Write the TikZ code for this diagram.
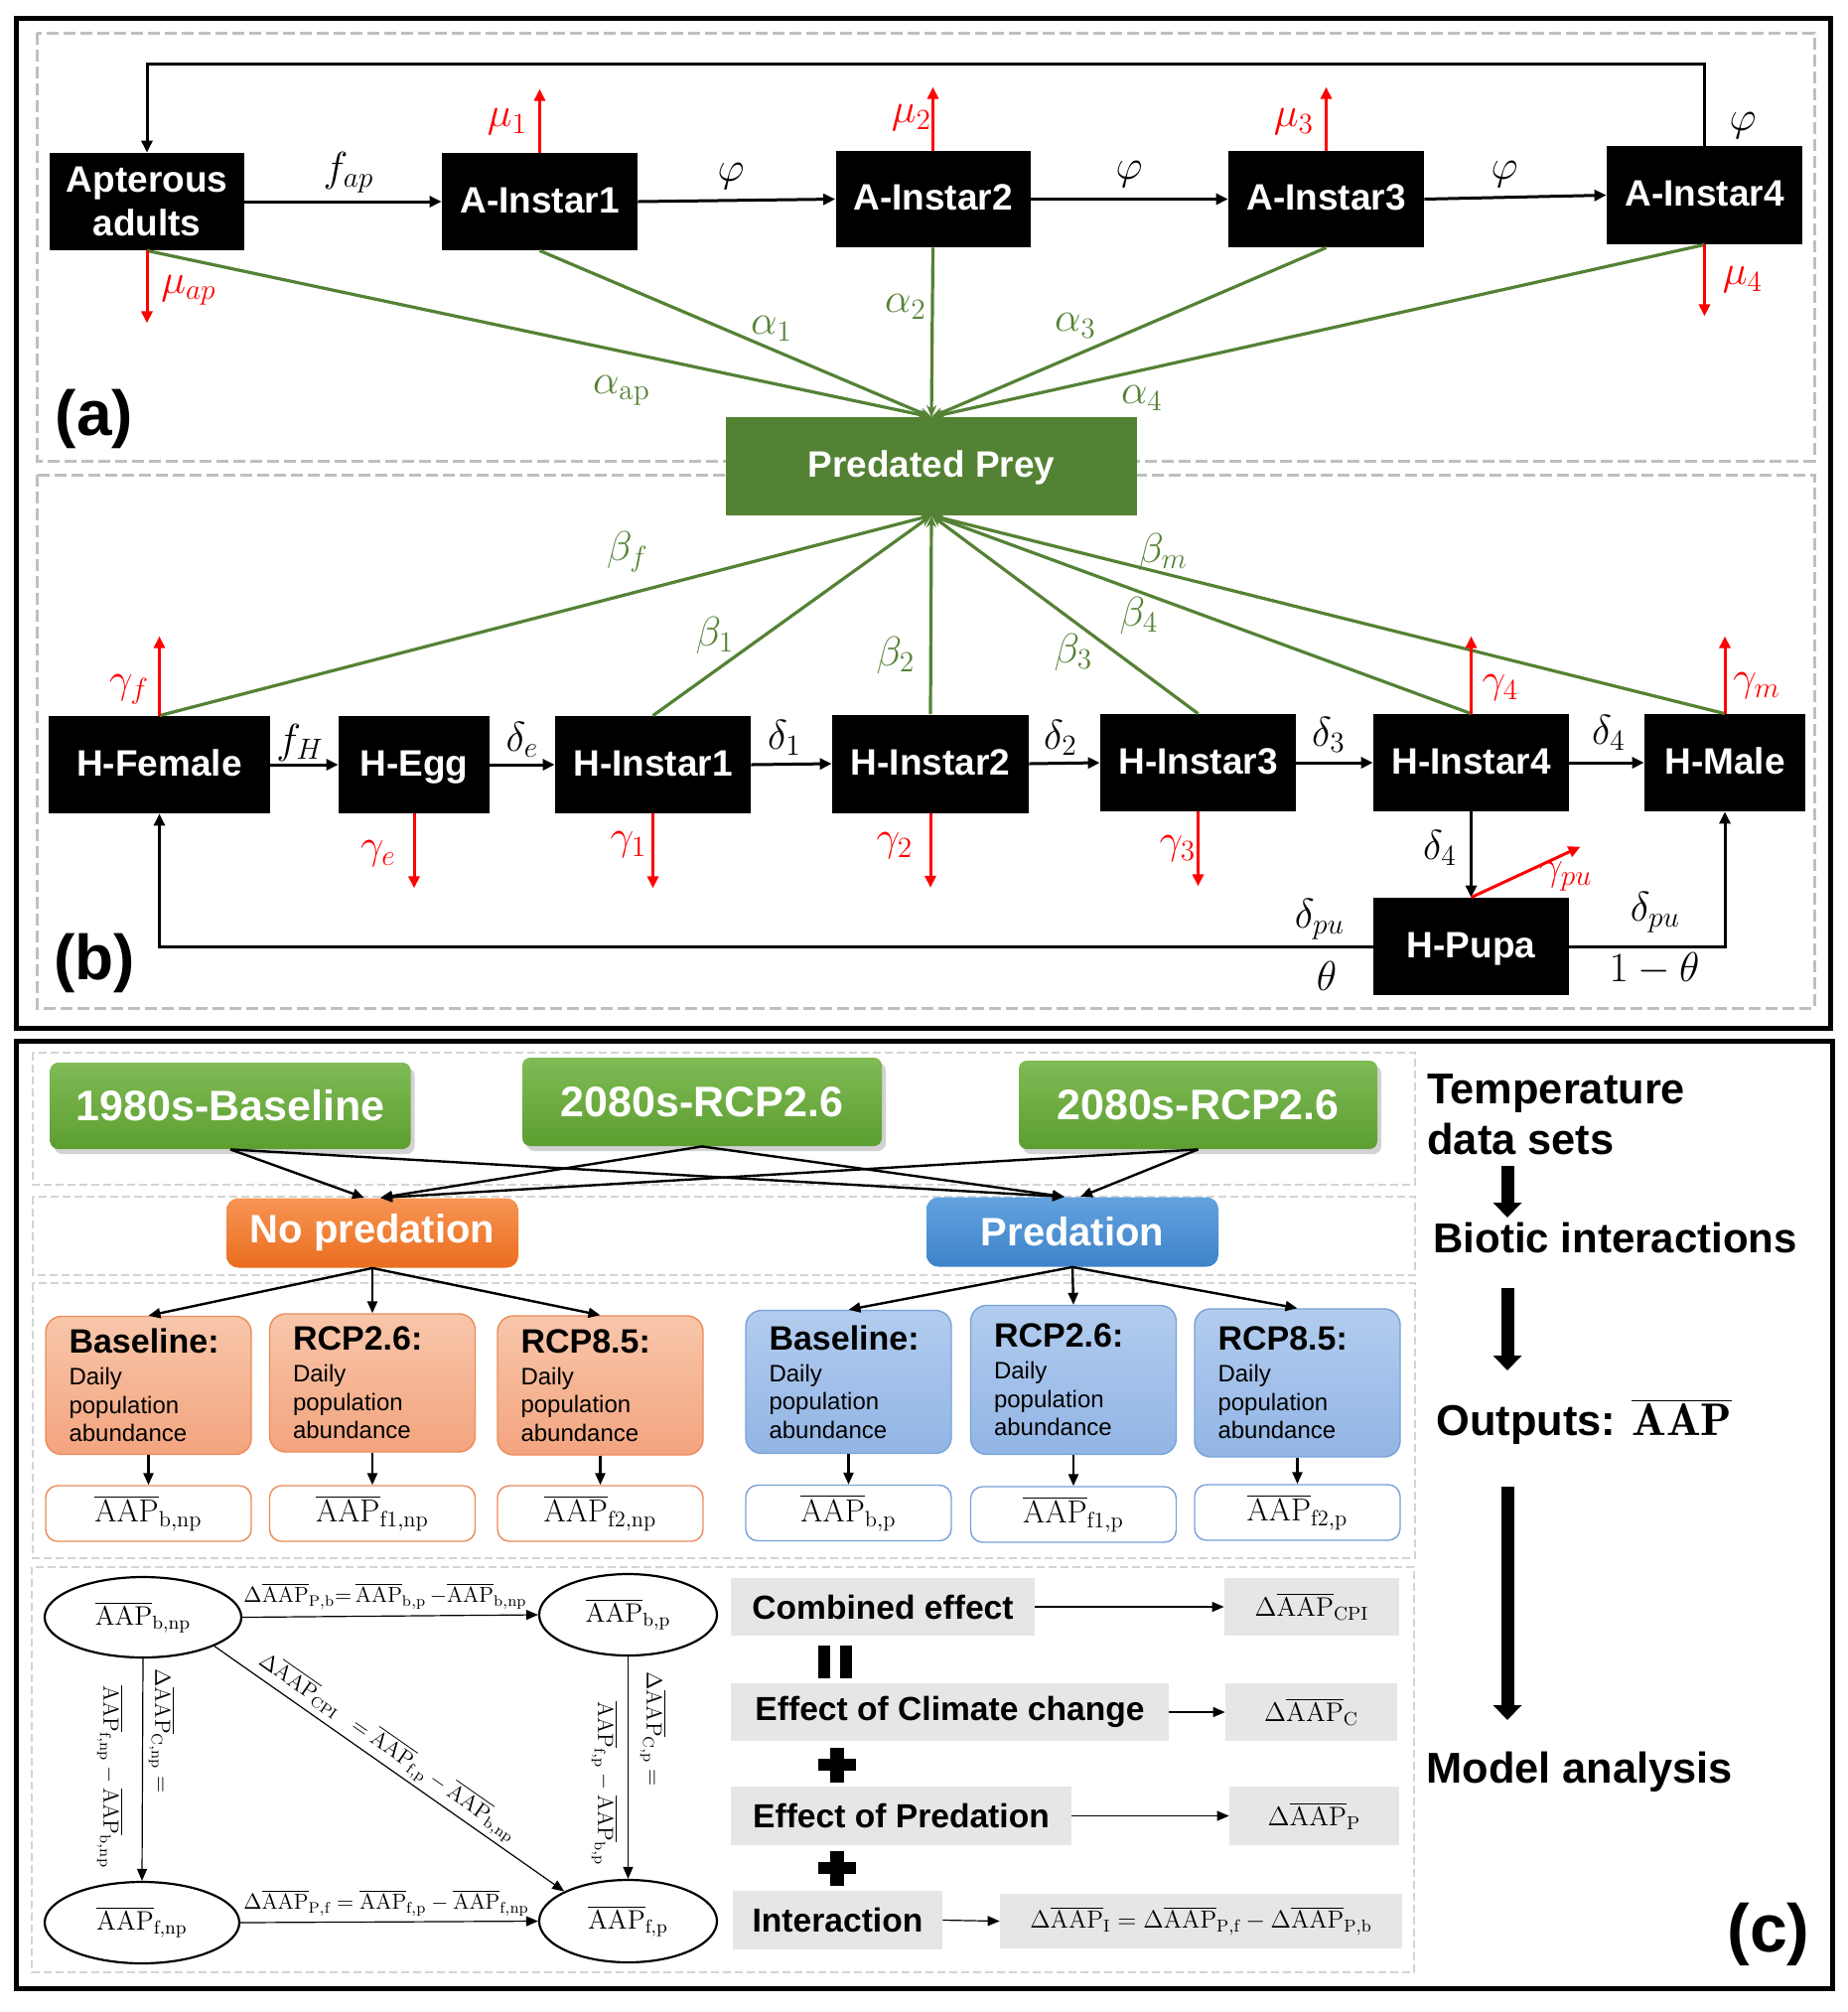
\RequirePackage{fix-cm}
\documentclass[tikz,border=0pt]{standalone}
\usepackage{fontspec}
\newfontfamily\arial{Liberation Sans}
\usetikzlibrary{arrows.meta,shapes.geometric,shadows,calc}
\definecolor{pgreen}{RGB}{84,130,53}
\definecolor{dgray}{RGB}{191,191,191}
\definecolor{lgray}{RGB}{212,212,212}
\definecolor{boxgray}{RGB}{231,230,230}
\definecolor{tgtop}{RGB}{128,187,86}
\definecolor{tgbot}{RGB}{92,158,48}
\definecolor{ortop}{RGB}{247,148,84}
\definecolor{orbot}{RGB}{234,110,30}
\definecolor{bltop}{RGB}{98,162,222}
\definecolor{blbot}{RGB}{62,131,202}
\definecolor{lotop}{RGB}{248,198,170}
\definecolor{lobot}{RGB}{243,164,126}
\definecolor{lodraw}{RGB}{236,140,90}
\definecolor{lbtop}{RGB}{178,204,238}
\definecolor{lbbot}{RGB}{146,181,229}
\definecolor{lbdraw}{RGB}{120,162,216}
\newcommand{\ovA}{\overline{\mathrm{AAP}}}
\newcommand{\stxt}[1]{\parbox{80pt}{\raggedright\fontsize{17}{17}\selectfont\bfseries #1\par\vspace{1.75pt}\fontsize{12}{14.25}\selectfont\mdseries Daily\par population\par abundance}}
\begin{document}
\begin{tikzpicture}[x=0.5pt,y=-0.5pt,
  blk/.style={fill=black, text=white, font=\arial\bfseries\fontsize{18.5}{22}\selectfont, inner sep=0pt, align=center},
  blk1/.style={blk, text height=13.3pt, text depth=2pt},
  lab/.style={inner sep=0pt, font=\fontsize{21}{24}\selectfont},
  barr/.style={draw=black, line width=1.5pt, -{Triangle[length=6pt,width=5.5pt]}},
  rarr/.style={draw=red, line width=1.5pt, -{Triangle[length=6pt,width=5.5pt]}},
  garr/.style={draw=pgreen, line width=1.6pt, -{Stealth[length=6pt,width=5pt]}},
  dbox/.style={draw=dgray, line width=1.5pt, dash pattern=on 6pt off 2.5pt},
  lbox/.style={draw=lgray, line width=1pt, dash pattern=on 4pt off 2pt},
  tnode/.style={rounded corners=4pt, top color=tgtop, bottom color=tgbot, text=white, font=\arial\bfseries\fontsize{21.5}{24}\selectfont, inner sep=0pt, drop shadow={shadow xshift=2pt, shadow yshift=-2.5pt, opacity=0.35}},
  prnode/.style={rounded corners=6pt, text=white, font=\arial\bfseries\fontsize{20}{24}\selectfont, inner sep=0pt, minimum width=147pt, minimum height=35pt},
  obox/.style={rounded corners=8pt, top color=lotop, bottom color=lobot, draw=lodraw, line width=0.7pt, inner sep=0pt, minimum width=103.5pt, font=\arial},
  bbox/.style={rounded corners=8pt, top color=lbtop, bottom color=lbbot, draw=lbdraw, line width=0.7pt, inner sep=0pt, minimum width=103.5pt, font=\arial},
  oabox/.style={rounded corners=6pt, fill=white, draw=lodraw, line width=0.7pt, inner sep=0pt, minimum width=103.5pt, minimum height=28pt, font=\fontsize{16}{18}\selectfont},
  babox/.style={rounded corners=6pt, fill=white, draw=lbdraw, line width=0.7pt, inner sep=0pt, minimum width=103.5pt, minimum height=28pt, font=\fontsize{16}{18}\selectfont},
  carr/.style={draw=black, line width=1.2pt, -{Triangle[length=6pt,width=5pt]}},
  tarr/.style={draw=black, line width=0.6pt, -{Triangle[length=6pt,width=5pt]}},
  bigarr/.style={draw=black, line width=6.5pt, -{Triangle[length=7.5pt,width=14pt]}},
  ell/.style={ellipse, draw=black, line width=1.1pt, inner sep=0pt, font=\fontsize{13.5}{15}\selectfont},
  elab/.style={inner sep=0pt, font=\fontsize{11}{13}\selectfont},
  gbox/.style={fill=boxgray, inner sep=0pt, font=\arial\bfseries\fontsize{16.8}{19}\selectfont},
  vbox/.style={fill=boxgray, inner sep=0pt, font=\fontsize{13.5}{16}\selectfont},
  rtxt/.style={inner sep=0pt, font=\arial\bfseries\fontsize{21.7}{24}\selectfont},
  plab/.style={inner sep=0pt, font=\arial\bfseries\fontsize{32}{36}\selectfont}
]
\useasboundingbox (0,0) rectangle (1860,2026);
\fill[white] (0,0) rectangle (1860,2026);

% ---------------- (a) and (b) frames
\draw[line width=2.5pt] (16,18) rectangle (1843,1035);
\draw[dbox] (37,33) rectangle (1827,464);
\draw[dbox] (37,478) rectangle (1827,1015);

% ---------------- (a) nodes
\node[blk, minimum width=98pt, minimum height=49pt] (ap) at (148,203) {Apterous\\adults};
\node[blk1, minimum width=98.5pt, minimum height=49pt] (a1) at (543.5,203) {A-Instar1};
\node[blk1, minimum width=98pt, minimum height=48.5pt] (a2) at (939.5,200.5) {A-Instar2};
\node[blk1, minimum width=98.5pt, minimum height=48.5pt] (a3) at (1335.5,200.5) {A-Instar3};
\node[blk1, minimum width=98.5pt, minimum height=49.5pt] (a4) at (1716.5,196.5) {A-Instar4};

% ---------------- (b) nodes
\node[blk1, minimum width=111.5pt, minimum height=49pt] (hf) at (160.5,770) {H-Female};
\node[blk1, minimum width=76pt, minimum height=49pt] (he) at (417,770) {H-Egg};
\node[blk1, minimum width=98.5pt, minimum height=49pt] (h1) at (657.5,770) {H-Instar1};
\node[blk1, minimum width=99pt, minimum height=49.5pt] (h2) at (937,769) {H-Instar2};
\node[blk1, minimum width=98.5pt, minimum height=49pt] (h3) at (1206.5,768) {H-Instar3};
\node[blk1, minimum width=98.5pt, minimum height=49pt] (h4) at (1481.5,768) {H-Instar4};
\node[blk1, minimum width=81pt, minimum height=49pt] (hm) at (1737,768) {H-Male};
\node[blk1, minimum width=98.5pt, minimum height=49pt] (hp) at (1481.5,953) {H-Pupa};

% green predation lines
\foreach \n in {ap,a1,a2,a3,a4} \draw[garr] (\n.south) -- (938,420);
\foreach \n in {hf,h1,h2,h3,h4,hm} \draw[garr] (\n.north) -- (938,519);

\node[blk1, fill=pgreen, minimum width=207pt, minimum height=49.5pt] (pp) at (938,469.5) {Predated Prey};

% black arrows (a)
\draw[barr] (ap.east) -- (a1.west);
\draw[barr] (a1.east) -- (a2.west);
\draw[barr] (a2.east) -- (a3.west);
\draw[barr] (a3.east) -- (a4.west);
\draw[barr] (a4.north) -- ++(0,-82) -| (ap.north);

% red arrows (a)
\draw[rarr] (a1.north) -- ++(0,-64);
\draw[rarr] (a2.north) -- ++(0,-64);
\draw[rarr] (a3.north) -- ++(0,-64);
\draw[rarr] (ap.south) -- ++(0,73);
\draw[rarr] (a4.south) -- ++(0,72);

% black arrows (b)
\draw[barr] (hf.east) -- (he.west);
\draw[barr] (he.east) -- (h1.west);
\draw[barr] (h1.east) -- (h2.west);
\draw[barr] (h2.east) -- (h3.west);
\draw[barr] (h3.east) -- (h4.west);
\draw[barr] (h4.east) -- (hm.west);
\draw[barr] (h4.south) -- (hp.north);
\draw[barr] (hp.west) -| (hf.south);
\draw[barr] (hp.east) -| (hm.south);

% red arrows (b)
\draw[rarr] (hf.north) -- ++(0,-80);
\draw[rarr] (he.south) -- ++(0,75);
\draw[rarr] (h1.south) -- ++(0,75);
\draw[rarr] (h2.south) -- ++(0,75);
\draw[rarr] (h3.south) -- ++(0,75);
\draw[rarr] (h4.north) -- ++(0,-78);
\draw[rarr] (hm.north) -- ++(0,-78);
\draw[rarr] (hp.north) -- ++(110,-51);

% labels (a)
\node[lab] (lfap) at (351,174) {$f_{ap}$};
\node[lab] (lphi1) at (736,178) {$\varphi$};
\node[lab] (lphi2) at (1137,176) {$\varphi$};
\node[lab] (lphi3) at (1515,176) {$\varphi$};
\node[lab] (lphi4) at (1755,127) {$\varphi$};
\node[lab,red] (lmu1) at (511,123) {$\mu_1$};
\node[lab,red] (lmu2) at (918,119) {$\mu_2$};
\node[lab,red] (lmu3) at (1303,123) {$\mu_3$};
\node[lab,red] (lmuap) at (190,292) {$\mu_{ap}$};
\node[lab,red] (lmu4) at (1755,282) {$\mu_4$};
\node[lab,pgreen] (lalap) at (626,393) {$\alpha_{\mathrm{ap}}$};
\node[lab,pgreen] (lal1) at (777,331) {$\alpha_1$};
\node[lab,pgreen] (lal2) at (912,309) {$\alpha_2$};
\node[lab,pgreen] (lal3) at (1083,328) {$\alpha_3$};
\node[lab,pgreen] (lal4) at (1150,401) {$\alpha_4$};

% labels (b)
\node[lab,pgreen] (lbf) at (632,556) {$\beta_f$};
\node[lab,pgreen] (lb1) at (720,640) {$\beta_1$};
\node[lab,pgreen] (lb2) at (902,660) {$\beta_2$};
\node[lab,pgreen] (lb3) at (1081,657) {$\beta_3$};
\node[lab,pgreen] (lb4) at (1147,620) {$\beta_4$};
\node[lab,pgreen] (lbm) at (1171,556) {$\beta_m$};
\node[lab,red] (lgf) at (130,694) {$\gamma_f$};
\node[lab,red] (lge) at (381,860) {$\gamma_e$};
\node[lab,red] (lg1) at (633,851) {$\gamma_1$};
\node[lab,red] (lg2) at (901,852) {$\gamma_2$};
\node[lab,red] (lg3) at (1186,855) {$\gamma_3$};
\node[lab,red] (lg4) at (1511,693) {$\gamma_4$};
\node[lab,red] (lgm) at (1769,691) {$\gamma_m$};
\node[lab,red] (lgpu) at (1577,882) {$\gamma_{pu}$};
\node[lab] (lfh) at (302,748) {$f_H$};
\node[lab] (lde) at (526,745) {$\delta_e$};
\node[lab] (ld1) at (790,743) {$\delta_1$};
\node[lab] (ld2) at (1068,743) {$\delta_2$};
\node[lab] (ld3) at (1338,740) {$\delta_3$};
\node[lab] (ld4) at (1620,738) {$\delta_4$};
\node[lab] (ld4b) at (1450,854) {$\delta_4$};
\node[lab] (ldpu1) at (1329,926) {$\delta_{pu}$};
\node[lab] (lth) at (1336,983) {$\theta$};
\node[lab] (ldpu2) at (1667,919) {$\delta_{pu}$};
\node[lab] (l1th) at (1666,976) {$1-\theta$};

\node[plab] (la) at (95,422) {(a)};
\node[plab] (lb) at (95,970) {(b)};

% ---------------- (c)
\draw[line width=2.5pt] (16,1048) rectangle (1845,2002);
\draw[lbox] (33,1060) rectangle (1425,1193);
\draw[lbox] (33,1205) rectangle (1425,1284);
\draw[lbox] (33,1292) rectangle (1425,1569);
\draw[lbox] (32,1578) rectangle (1424,1986);

\node[tnode, minimum width=181.5pt, minimum height=43.5pt] (t1) at (232,1113.5) {1980s-Baseline};
\node[tnode, minimum width=181pt, minimum height=44.5pt] (t2) at (707,1109.5) {2080s-RCP2.6};
\node[tnode, minimum width=180.5pt, minimum height=44.5pt] (t3) at (1206.5,1112.5) {2080s-RCP2.6};

\node[prnode, top color=ortop, bottom color=orbot] (np) at (375,1241.5) {No predation};
\node[prnode, top color=bltop, bottom color=blbot] (pr) at (1080,1240.5) {Predation};

\coordinate (npL) at ($(np.north)+(-8,0)$);
\coordinate (npR) at ($(np.north)+(8,0)$);
\coordinate (prL) at ($(pr.north)+(-8,0)$);
\coordinate (prR) at ($(pr.north)+(8,0)$);
\draw[carr] (t1.south) -- (npL);
\draw[carr] (t1.south) -- (prL);
\draw[carr] (t2.south) -- (npR);
\draw[carr] (t2.south) -- (prL);
\draw[carr] (t3.south) -- (npR);
\draw[carr] (t3.south) -- (prR);

\node[obox, minimum height=69.5pt] (npb) at (149.5,1395) {\stxt{Baseline:}};
\node[obox, minimum height=69.5pt] (np26) at (375,1392.5) {\stxt{RCP2.6:}};
\node[obox, minimum height=70pt] (np85) at (604.5,1395) {\stxt{RCP8.5:}};
\node[bbox, minimum height=72pt] (pb) at (854.5,1391.5) {\stxt{Baseline:}};
\node[bbox, minimum height=75pt] (p26) at (1081,1389.5) {\stxt{RCP2.6:}};
\node[bbox, minimum height=74.5pt] (p85) at (1306.5,1392.5) {\stxt{RCP8.5:}};

\node[oabox] (anpb) at (149.5,1524) {$\ovA_{\mathrm{b,np}}$};
\node[oabox] (anp26) at (375,1524) {$\ovA_{\mathrm{f1,np}}$};
\node[oabox] (anp85) at (604.5,1524) {$\ovA_{\mathrm{f2,np}}$};
\node[babox] (apb) at (854.5,1523.5) {$\ovA_{\mathrm{b,p}}$};
\node[babox] (ap26) at (1081,1525) {$\ovA_{\mathrm{f1,p}}$};
\node[babox] (ap85) at (1306.5,1523) {$\ovA_{\mathrm{f2,p}}$};

\foreach \b in {npb,np26,np85} \draw[carr] (np.south) -- (\b.north);
\foreach \b in {pb,p26,p85} \draw[carr] (pr.south) -- (\b.north);
\draw[carr] (npb.south) -- (anpb.north);
\draw[carr] (np26.south) -- (anp26.north);
\draw[carr] (np85.south) -- (anp85.north);
\draw[carr] (pb.south) -- (apb.north);
\draw[carr] (p26.south) -- (ap26.north);
\draw[carr] (p85.south) -- (ap85.north);

% right column
\node[rtxt, anchor=base west] (rt1) at (1437,1111) {Temperature};
\node[rtxt, anchor=base west] (rt2) at (1437,1162) {data sets};
\node[rtxt, anchor=base west, font=\arial\bfseries\fontsize{21}{24}\selectfont] (rt3) at (1443,1261) {Biotic interactions};
\node[rtxt, anchor=base west] (rt4) at (1446,1445) {Outputs: {\fontsize{23}{26}\selectfont$\overline{\mathbf{AAP}}$}};
\node[rtxt, anchor=base west] (rt5) at (1436,1795) {Model analysis};
\coordinate (ba1s) at (1518,1174); \coordinate (ba1e) at (1518,1226);
\coordinate (ba2s) at (1518,1297); \coordinate (ba2e) at (1518,1380);
\coordinate (ba3s) at (1518,1497); \coordinate (ba3e) at (1518,1732);
\draw[bigarr] (ba1s) -- (ba1e);
\draw[bigarr] (ba2s) -- (ba2e);
\draw[bigarr] (ba3s) -- (ba3e);
\node[plab, font=\arial\bfseries\fontsize{34}{38}\selectfont] (lc) at (1781,1948) {(c)};

% ellipse diagram
\node[ell, minimum width=99pt, minimum height=40.5pt] (e1) at (144,1628.5) {$\ovA_{\mathrm{b,np}}$};
\node[ell, minimum width=89.5pt, minimum height=41pt] (e2) at (632.5,1626) {$\ovA_{\mathrm{b,p}}$};
\node[ell, minimum width=98pt, minimum height=41pt] (e3) at (143,1936) {$\ovA_{\mathrm{f,np}}$};
\node[ell, minimum width=89.5pt, minimum height=41.5pt] (e4) at (632.5,1934.5) {$\ovA_{\mathrm{f,p}}$};
\draw[tarr] (e1.east) -- (e2.west);
\draw[tarr] (e3.east) -- (e4.west);
\draw[tarr] (e1.south) -- (e3.north);
\draw[tarr] (e2.south) -- (e4.north);
\draw[tarr] (e1.-22.6) -- (e4.155.1);
\node[elab] (lpb) at (388,1607) {$\Delta\ovA_{\mathrm{P,b}}{=}\,\ovA_{\mathrm{b,p}}\,{-}\ovA_{\mathrm{b,np}}$};
\node[elab] (lpf) at (389,1916) {$\Delta\ovA_{\mathrm{P,f}} = \ovA_{\mathrm{f,p}} - \ovA_{\mathrm{f,np}}$};
\node[elab, rotate=-90, anchor=west] (lcnp1) at (163,1680) {$\Delta\ovA_{\mathrm{C,np}} =$};
\node[elab, rotate=-90, anchor=west] (lcnp2) at (111,1697) {$\ovA_{\mathrm{f,np}} - \ovA_{\mathrm{b,np}}$};
\node[elab, rotate=-90, anchor=west] (lcp1) at (658,1683) {$\Delta\ovA_{\mathrm{C,p}} =$};
\node[elab, rotate=-90, anchor=west] (lcp2) at (609,1713) {$\ovA_{\mathrm{f,p}} - \ovA_{\mathrm{b,p}}$};
\node[elab, rotate=-34.9] (lcpi) at (391,1759) {$\Delta\ovA_{\mathrm{CPI}}\;\;= \ovA_{\mathrm{f,p}} - \ovA_{\mathrm{b,np}}$};

% effects
\node[gbox, minimum width=153pt, minimum height=29pt] (ce) at (889,1618) {Combined effect};
\node[gbox, minimum width=220.5pt, minimum height=29pt] (cc) at (956.5,1724) {Effect of Climate change};
\node[gbox, minimum width=171.5pt, minimum height=29.5pt] (cp) at (907.5,1828.5) {Effect of Predation};
\node[gbox, minimum width=105.5pt, minimum height=29.5pt] (ci) at (843.5,1933.5) {Interaction};
\node[vbox, minimum width=88pt, minimum height=29pt] (ve) at (1321,1618) {$\Delta\ovA_{\mathrm{CPI}}$};
\node[vbox, minimum width=86.5pt, minimum height=29pt] (vc) at (1320.5,1724) {$\Delta\ovA_{\mathrm{C}}$};
\node[vbox, minimum width=85.5pt, minimum height=29.5pt] (vp) at (1323.5,1828.5) {$\Delta\ovA_{\mathrm{P}}$};
\node[vbox, minimum width=202.5pt, minimum height=27.5pt, font=\fontsize{12.5}{15}\selectfont] (vi) at (1209.5,1934.5) {$\Delta\ovA_{\mathrm{I}} = \Delta\ovA_{\mathrm{P,f}} - \Delta\ovA_{\mathrm{P,b}}$};
\draw[tarr] (ce.east) -- (ve.west);
\draw[tarr] (cc.east) -- (vc.west);
\draw[tarr] (cp.east) -- (vp.west);
\draw[tarr] (ci.east) -- (vi.west);
% equals bars and plus signs
\fill[black] (824,1657) rectangle (836,1690);
\fill[black] (846,1657) rectangle (858,1690);
\fill[black] (824,1771) rectangle (862,1783);
\fill[black] (836,1760) rectangle (850,1795);
\fill[black] (824,1875) rectangle (862,1887);
\fill[black] (836,1864) rectangle (850,1899);
\end{tikzpicture}
\end{document}
